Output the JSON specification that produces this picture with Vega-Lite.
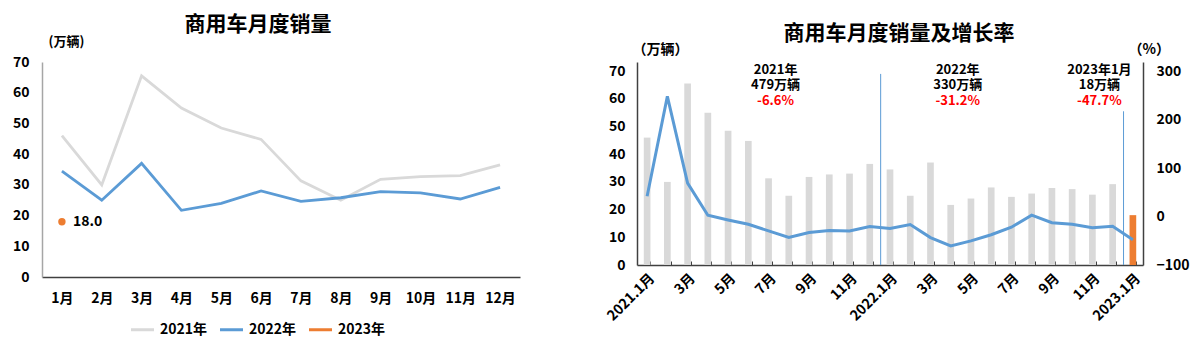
{
  "$schema": "https://vega.github.io/schema/vega-lite/v6.json",
  "background": "white",
  "padding": {"left": 12, "top": 14, "right": 0, "bottom": 0},
  "spacing": 84,
  "config": {
    "font": "Noto Sans CJK SC",
    "view": {"stroke": null},
    "axis": {"labelFont": "Noto Sans CJK SC", "labelFontSize": 14, "labelFontWeight": "bold", "labelColor": "#000000", "titleFont": "Noto Sans CJK SC", "titleFontSize": 13, "titleFontWeight": "bold", "titleColor": "#000000", "grid": false, "ticks": false, "domainColor": "#404040", "domainWidth": 1.5},
    "title": {"font": "Noto Sans CJK SC", "fontSize": 21, "fontWeight": "bold", "color": "#000000"},
    "legend": {"labelFont": "Noto Sans CJK SC", "labelFontSize": 14, "labelFontWeight": "bold", "labelColor": "#000000"}
  },
  "datasets": {
    "monthly": [
      {"month": "1月", "year": "2021年", "v": 46.0}, {"month": "2月", "year": "2021年", "v": 30.0}, {"month": "3月", "year": "2021年", "v": 65.5}, {"month": "4月", "year": "2021年", "v": 55.0}, {"month": "5月", "year": "2021年", "v": 48.5}, {"month": "6月", "year": "2021年", "v": 44.8}, {"month": "7月", "year": "2021年", "v": 31.3}, {"month": "8月", "year": "2021年", "v": 25.0}, {"month": "9月", "year": "2021年", "v": 31.8}, {"month": "10月", "year": "2021年", "v": 32.7}, {"month": "11月", "year": "2021年", "v": 33.0}, {"month": "12月", "year": "2021年", "v": 36.5},
      {"month": "1月", "year": "2022年", "v": 34.5}, {"month": "2月", "year": "2022年", "v": 25.0}, {"month": "3月", "year": "2022年", "v": 37.0}, {"month": "4月", "year": "2022年", "v": 21.7}, {"month": "5月", "year": "2022年", "v": 24.0}, {"month": "6月", "year": "2022年", "v": 28.0}, {"month": "7月", "year": "2022年", "v": 24.6}, {"month": "8月", "year": "2022年", "v": 25.8}, {"month": "9月", "year": "2022年", "v": 27.8}, {"month": "10月", "year": "2022年", "v": 27.4}, {"month": "11月", "year": "2022年", "v": 25.4}, {"month": "12月", "year": "2022年", "v": 29.2},
      {"month": "1月", "year": "2023年", "v": 18.0}
    ],
    "series": [
      {"m": "2021-01", "yr": "2021", "v": 46.0, "g": 42}, {"m": "2021-02", "yr": "2021", "v": 30.0, "g": 248}, {"m": "2021-03", "yr": "2021", "v": 65.5, "g": 69}, {"m": "2021-04", "yr": "2021", "v": 55.0, "g": 2.8}, {"m": "2021-05", "yr": "2021", "v": 48.5, "g": -7}, {"m": "2021-06", "yr": "2021", "v": 44.8, "g": -16}, {"m": "2021-07", "yr": "2021", "v": 31.3, "g": -29.7}, {"m": "2021-08", "yr": "2021", "v": 25.0, "g": -43.3}, {"m": "2021-09", "yr": "2021", "v": 31.8, "g": -33}, {"m": "2021-10", "yr": "2021", "v": 32.7, "g": -29}, {"m": "2021-11", "yr": "2021", "v": 33.0, "g": -29.7}, {"m": "2021-12", "yr": "2021", "v": 36.5, "g": -20.6},
      {"m": "2022-01", "yr": "2022", "v": 34.5, "g": -24.6}, {"m": "2022-02", "yr": "2022", "v": 25.0, "g": -16.6}, {"m": "2022-03", "yr": "2022", "v": 37.0, "g": -43.4}, {"m": "2022-04", "yr": "2022", "v": 21.7, "g": -60.5}, {"m": "2022-05", "yr": "2022", "v": 24.0, "g": -50.3}, {"m": "2022-06", "yr": "2022", "v": 28.0, "g": -37.5}, {"m": "2022-07", "yr": "2022", "v": 24.6, "g": -22}, {"m": "2022-08", "yr": "2022", "v": 25.8, "g": 3}, {"m": "2022-09", "yr": "2022", "v": 27.8, "g": -12.7}, {"m": "2022-10", "yr": "2022", "v": 27.4, "g": -16.1}, {"m": "2022-11", "yr": "2022", "v": 25.4, "g": -23.1}, {"m": "2022-12", "yr": "2022", "v": 29.2, "g": -20},
      {"m": "2023-01", "yr": "2023", "v": 18.0, "g": -47.7}
    ],
    "notes": [
      {"m": "2021-07", "v": 70.4, "t": "2021年", "k": "label"}, {"m": "2021-07", "v": 64.9, "t": "479万辆", "k": "label"}, {"m": "2021-07", "v": 59.3, "t": "-6.6%", "k": "pct"},
      {"m": "2022-04", "v": 70.4, "t": "2022年", "k": "label"}, {"m": "2022-04", "v": 64.9, "t": "330万辆", "k": "label"}, {"m": "2022-04", "v": 59.3, "t": "-31.2%", "k": "pct"},
      {"m": "2022-11", "v": 70.4, "t": "2023年1月", "k": "label"}, {"m": "2022-11", "v": 64.9, "t": "18万辆", "k": "label"}, {"m": "2022-11", "v": 59.3, "t": "-47.7%", "k": "pct"}
    ],
    "dividers": [
      {"m": "2022-01", "top": 69, "bottom": 0},
      {"m": "2023-01", "top": 55.5, "bottom": 0}
    ]
  },
  "hconcat": [
    {
      "width": 478,
      "height": 215,
      "title": {"text": "商用车月度销量", "frame": "group", "anchor": "middle", "dx": -23, "offset": 0},
      "data": {"name": "monthly"},
      "layer": [
        {
          "mark": {"type": "line", "strokeWidth": 2.8},
          "encoding": {
            "x": {"field": "month", "type": "ordinal", "sort": ["1月", "2月", "3月", "4月", "5月", "6月", "7月", "8月", "9月", "10月", "11月", "12月"], "axis": {"title": null, "labelAngle": 0, "labelPadding": 14, "domainColor": "#404040"}},
            "y": {"field": "v", "type": "quantitative", "scale": {"domain": [0, 70], "nice": false}, "axis": {"values": [0, 10, 20, 30, 40, 50, 60, 70], "title": "(万辆)", "titleAngle": 0, "titleAlign": "left", "titleBaseline": "middle", "titleX": 6, "titleY": -21, "labelPadding": 13, "domainColor": "#a6a6a6"}},
            "color": {"field": "year", "type": "nominal", "scale": {"domain": ["2021年", "2022年", "2023年"], "range": ["#d9d9d9", "#5b9bd5", "#ed7d31"]}, "legend": {"title": null, "orient": "none", "legendX": 87, "legendY": 254, "direction": "horizontal", "symbolType": "stroke", "symbolSize": 530, "symbolStrokeWidth": 3, "columnPadding": 5, "labelOffset": 4}}
          }
        },
        {
          "transform": [{"filter": "datum.year == '2023年'"}],
          "mark": {"type": "point", "filled": true, "size": 55, "opacity": 1},
          "encoding": {
            "x": {"field": "month", "type": "ordinal", "sort": ["1月", "2月", "3月", "4月", "5月", "6月", "7月", "8月", "9月", "10月", "11月", "12月"], "axis": {"title": null, "labelAngle": 0, "labelPadding": 14, "domainColor": "#404040"}},
            "y": {"field": "v", "type": "quantitative", "scale": {"domain": [0, 70], "nice": false}, "axis": {"values": [0, 10, 20, 30, 40, 50, 60, 70], "title": "(万辆)", "titleAngle": 0, "titleAlign": "left", "titleBaseline": "middle", "titleX": 6, "titleY": -21, "labelPadding": 13, "domainColor": "#a6a6a6"}},
            "color": {"field": "year", "type": "nominal", "scale": {"domain": ["2021年", "2022年", "2023年"], "range": ["#d9d9d9", "#5b9bd5", "#ed7d31"]}, "legend": {"title": null, "orient": "none", "legendX": 87, "legendY": 254, "direction": "horizontal", "symbolType": "stroke", "symbolSize": 530, "symbolStrokeWidth": 3, "columnPadding": 5, "labelOffset": 4}}
          }
        },
        {
          "transform": [{"filter": "datum.year == '2023年'"}],
          "mark": {"type": "text", "align": "left", "dx": 11, "fontSize": 14, "fontWeight": "bold", "color": "#000000"},
          "encoding": {
            "x": {"field": "month", "type": "ordinal", "sort": ["1月", "2月", "3月", "4月", "5月", "6月", "7月", "8月", "9月", "10月", "11月", "12月"], "axis": {"title": null, "labelAngle": 0, "labelPadding": 14, "domainColor": "#404040"}},
            "y": {"field": "v", "type": "quantitative", "scale": {"domain": [0, 70], "nice": false}, "axis": {"values": [0, 10, 20, 30, 40, 50, 60, 70], "title": "(万辆)", "titleAngle": 0, "titleAlign": "left", "titleBaseline": "middle", "titleX": 6, "titleY": -21, "labelPadding": 13, "domainColor": "#a6a6a6"}},
            "text": {"field": "v", "type": "quantitative", "format": ".1f"}
          }
        }
      ]
    },
    {
      "width": 506,
      "height": 203,
      "title": {"text": "商用车月度销量及增长率", "frame": "group", "anchor": "middle", "dx": 9, "offset": -2},
      "layer": [
        {
          "data": {"name": "series"},
          "mark": {"type": "bar"},
          "encoding": {
            "x": {"field": "m", "type": "ordinal", "scale": {"paddingInner": 0.67, "paddingOuter": 0.335}, "axis": {"title": null, "labelAngle": -45, "labelPadding": 10, "ticks": true, "tickBand": "extent", "tickSize": -4, "tickColor": "#404040", "tickWidth": 1, "labelExpr": "toNumber(substring(datum.value,5,7)) % 2 == 1 ? (substring(datum.value,5,7) == '01' ? substring(datum.value,0,4) + '.1月' : toNumber(substring(datum.value,5,7)) + '月') : ''"}},
            "y": {"field": "v", "type": "quantitative", "scale": {"domain": [0, 73.3], "nice": false}, "axis": {"values": [0, 10, 20, 30, 40, 50, 60, 70], "title": "（万辆）", "titleFontSize": 14, "titleAngle": 0, "titleAlign": "left", "titleBaseline": "middle", "titleX": -5, "titleY": -13, "labelPadding": 12}},
            "color": {"field": "yr", "type": "nominal", "scale": {"domain": ["2021", "2022", "2023"], "range": ["#d9d9d9", "#d9d9d9", "#ed7d31"]}, "legend": null}
          }
        },
        {
          "data": {"name": "dividers"},
          "mark": {"type": "rule", "color": "#5b9bd5", "strokeWidth": 1, "xOffset": -6},
          "encoding": {
            "x": {"field": "m", "type": "ordinal", "bandPosition": 0},
            "y": {"field": "top", "type": "quantitative", "scale": {"domain": [0, 73.3], "nice": false}, "axis": null},
            "y2": {"field": "bottom"}
          }
        },
        {
          "data": {"name": "series"},
          "mark": {"type": "line", "color": "#5b9bd5", "strokeWidth": 3},
          "encoding": {
            "x": {"field": "m", "type": "ordinal"},
            "y": {"field": "g", "type": "quantitative", "scale": {"domain": [-100, 319], "nice": false}, "axis": {"orient": "right", "values": [-100, 0, 100, 200, 300], "title": "（%）", "titleFontSize": 14, "titleAngle": 0, "titleAlign": "left", "titleBaseline": "middle", "titleX": -15, "titleY": -13, "labelPadding": 13}}
          }
        },
        {
          "data": {"name": "notes"},
          "mark": {"type": "text", "dx": 7, "fontSize": 13, "fontWeight": "bold", "align": "center", "baseline": "middle"},
          "encoding": {
            "x": {"field": "m", "type": "ordinal"},
            "y": {"field": "v", "type": "quantitative", "scale": {"domain": [0, 73.3], "nice": false}, "axis": null},
            "text": {"field": "t"},
            "color": {"field": "k", "type": "nominal", "scale": {"domain": ["label", "pct"], "range": ["#000000", "#ff0000"]}, "legend": null}
          }
        }
      ],
      "resolve": {"scale": {"y": "independent", "color": "independent"}}
    }
  ]
}
